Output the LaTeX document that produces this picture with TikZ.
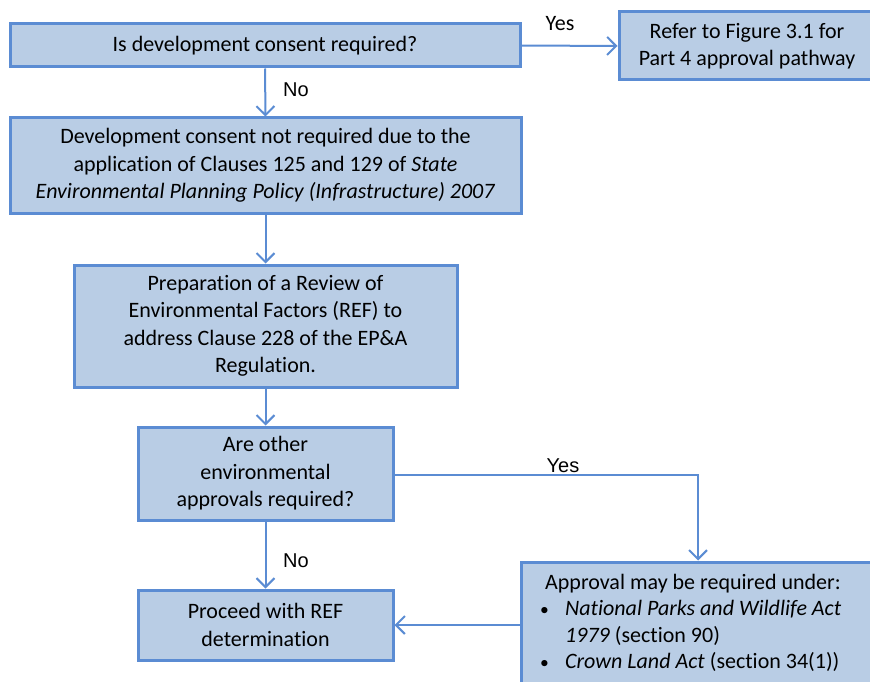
\documentclass[tikz,border=0pt]{standalone}
\usepackage{fontspec}
\setmainfont[Ligatures=NoCommon]{Carlito}
\newfontfamily\lblfont{Liberation Sans}
\usetikzlibrary{arrows.meta}
\definecolor{boxfill}{HTML}{B9CDE5}
\definecolor{boxline}{HTML}{5B8CD3}
\definecolor{conn}{HTML}{5B8CD3}
\tikzset{
  fbox/.style={draw=boxline, fill=boxfill, line width=3pt, inner sep=0pt, align=center,
    font=\fontsize{22}{27.5}\selectfont},
  flow/.style={draw=conn, line width=2pt, -{Straight Barb[length=9pt,width=18pt,line width=2pt]}},
  lbl/.style={font=\lblfont\fontsize{20}{22}\selectfont, inner sep=0pt}
}
\begin{document}
\begin{tikzpicture}[x=1pt,y=-1pt]
\useasboundingbox (0,0) rectangle (870,682);
\clip (0,0) rectangle (870,682);
\node[fbox, minimum width=510, minimum height=43] (b1) at (265,45.5) {Is development consent required?};
\node[fbox, minimum width=256, minimum height=68] (b2) at (747,46) {Refer to Figure 3.1 for\\Part 4 approval pathway};
\node[fbox, minimum width=511, minimum height=95] (b3) at (265.5,165.5) {Development consent not required due to the\\application of Clauses 125 and 129 of \textit{State}\\\textit{Environmental Planning Policy (Infrastructure) 2007}};
\node[fbox, minimum width=383, minimum height=122] (b4) at (265.5,326) {Preparation of a Review of\\Environmental Factors (REF) to\\address Clause 228 of the EP\&A\\Regulation.};
\node[fbox, minimum width=255, minimum height=93] (b5) at (265.5,473.5) {Are other\\environmental\\approvals required?};
\node[fbox, minimum width=255, minimum height=70] (b6) at (265.5,625) {Proceed with REF\\determination};
\node[fbox, minimum width=380, minimum height=140] (b7) at (711,632) {};
\node[anchor=north west, inner sep=0pt, align=left, font=\fontsize{22}{26.5}\selectfont] (t7) at (545,574)
  {Approval may be required under:\\
   \makebox[20pt][l]{\hspace{-5pt}\scalebox{0.8}{\textbullet}}\textit{National Parks and Wildlife Act}\\
   \hspace{20pt}\textit{1979} (section 90)\\
   \makebox[20pt][l]{\hspace{-5pt}\scalebox{0.8}{\textbullet}}\textit{Crown Land Act} (section 34(1))};
\coordinate (c5) at (698,475);
\draw[flow] (b1.east) -- (b2.west);
\draw[flow] (b1.south) -- (b3.north);
\draw[flow] (b3.south) -- (b4.north);
\draw[flow] (b4.south) -- (b5.north);
\draw[flow] (b5.south) -- (b6.north);
\draw[flow] (b5.east |- c5) -- (c5) -- (c5 |- b7.north);
\draw[flow] (b7.west |- b6.east) -- (b6.east);
\node[lbl, font=\fontsize{22}{24}\selectfont] (y1) at (560,24) {Yes};
\node[lbl] (n1) at (296,90) {No};
\node[lbl] (y2) at (563,466) {Yes};
\node[lbl] (n2) at (296,561) {No};
\end{tikzpicture}
\end{document}
